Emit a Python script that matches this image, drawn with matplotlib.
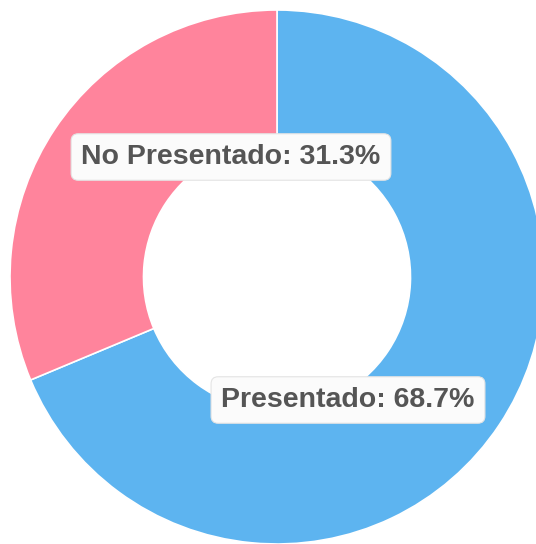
import matplotlib
matplotlib.use("Agg")
import matplotlib.pyplot as plt

labels = ["Presentado", "No Presentado"]
values = [68.7, 31.3]
colors = ["#5DB4F0", "#FF849C"]

W, H = 536, 544
fig = plt.figure(figsize=(W / 100, H / 100), dpi=100)
ax = fig.add_axes([0, 0, 1, 1])
ax.set_xlim(0, W)
ax.set_ylim(0, H)
ax.axis("off")

radius = 267
cx, cy = 277, H - 277
ax.pie(values, colors=colors, startangle=90, counterclock=False,
       radius=radius, center=(cx, cy), frame=True,
       wedgeprops=dict(width=radius * 0.5, edgecolor="white", linewidth=1.2))
ax.set_xlim(0, W)
ax.set_ylim(0, H)
ax.axis("off")

# label boxes (pixel centres, measured from the top-left)
label_pos = {"Presentado": (348, 400), "No Presentado": (231, 157)}
for lab, v in zip(labels, values):
    px, py = label_pos[lab]
    ax.text(px, H - py, f"{lab}: {v:.1f}%", ha="center", va="center",
            fontsize=20.5, fontweight="bold", family="Liberation Sans",
            color="#555555",
            bbox=dict(boxstyle="round,pad=0.36,rounding_size=0.25",
                      facecolor="#fbfbfb", edgecolor="#e4e4e4", linewidth=0.8))

fig.savefig("out.png", dpi=100)
